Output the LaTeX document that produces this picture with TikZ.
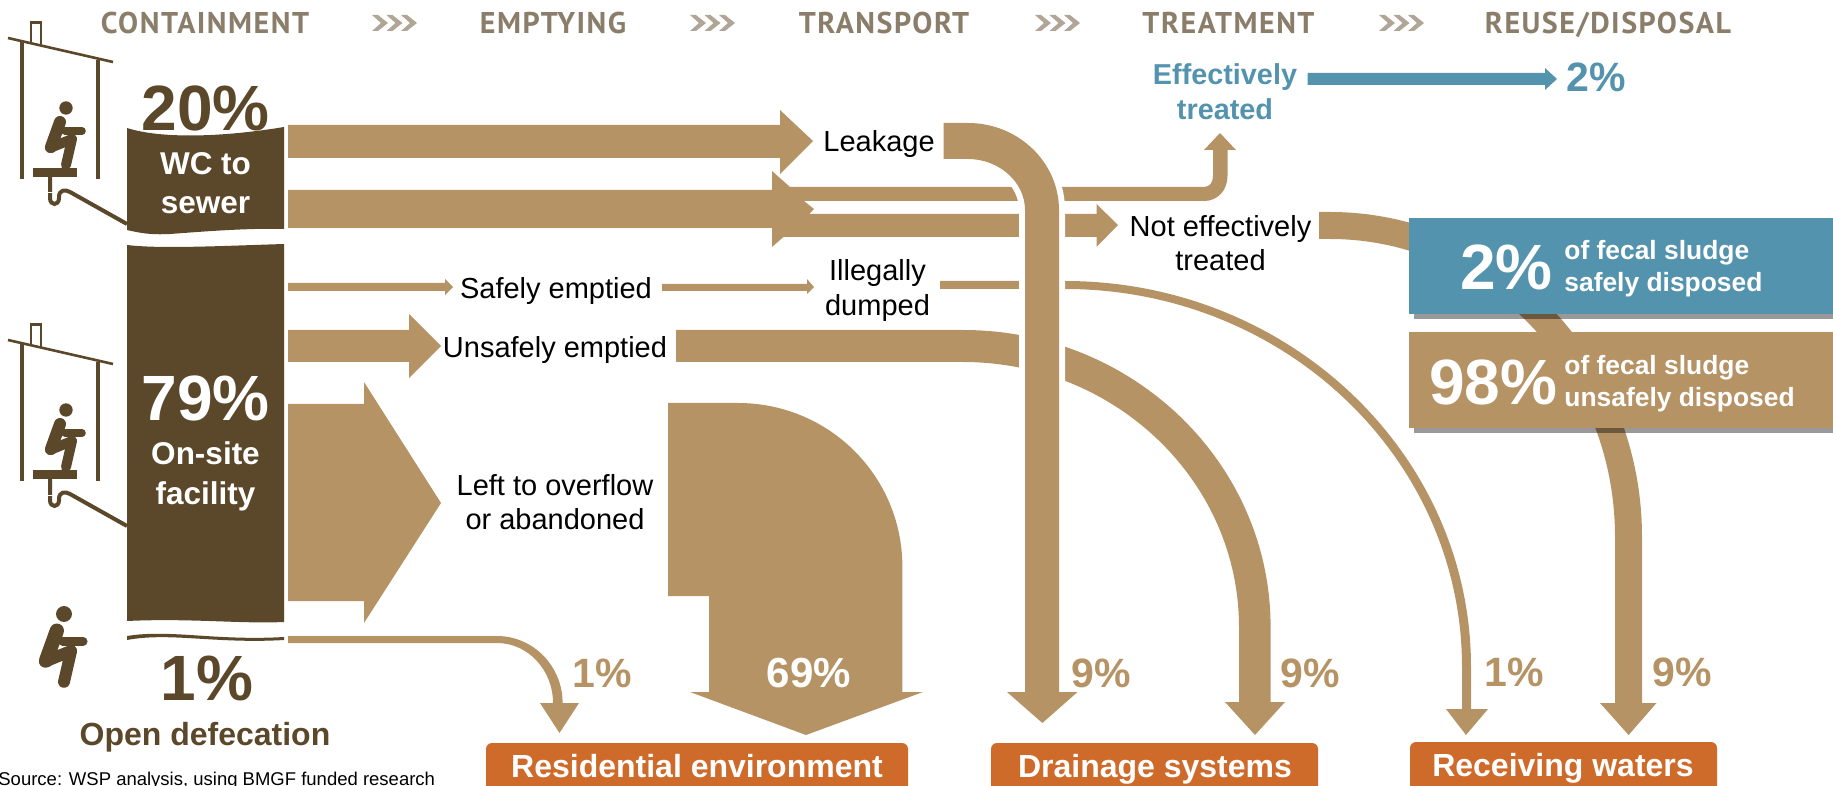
\documentclass[tikz,border=0pt]{standalone}
\usepackage{fontspec}
\setmainfont{Liberation Sans}
\newfontfamily\headfont[LetterSpace=5]{PT Sans}
\definecolor{flowtan}{HTML}{B59365}
\definecolor{pitbrown}{HTML}{5B4729}
\definecolor{safeblue}{HTML}{5493AE}
\definecolor{sinkorange}{HTML}{CE6B2A}
\definecolor{headgrey}{HTML}{8A7D69}
\definecolor{chevgrey}{HTML}{B0A596}
\tikzset{
        flow/.style = {fill=flowtan},
        pit/.style = {fill=pitbrown},
        stage/.style = {font=\headfont\bfseries\fontsize{15}{18}\selectfont, text=headgrey, inner sep=0, anchor=base},
        txt/.style = {font=\fontsize{14.5}{17.25}\selectfont, align=center, inner sep=0, anchor=base},
        bigpct/.style = {font=\bfseries\fontsize{32}{36}\selectfont, inner sep=0, anchor=base},
        midpct/.style = {font=\bfseries\fontsize{20.5}{24}\selectfont, text=flowtan, inner sep=0, anchor=base},
        pitname/.style = {font=\bfseries\fontsize{15.75}{19.5}\selectfont, text=white, align=center, inner sep=0, anchor=base},
        sink/.style = {fill=sinkorange, rounded corners=3pt},
        sinkname/.style = {font=\bfseries\fontsize{16}{19}\selectfont, text=white, inner sep=0, anchor=base},
        fate/.style = {font=\bfseries\fontsize{13.2}{16}\selectfont, text=white, align=left, inner sep=0, anchor=base west},
        pics/squatter/.style = {code={
            \fill[pitbrown] (0,0) circle[radius=6.7];
            \draw[pitbrown, line cap=round, line width=#1*6pt] (-6,14) -- (-15,39);
            \draw[pitbrown, line cap=round, line width=#1*3.8pt] (-1,23) -- (16,23);
            \draw[pitbrown, line cap=round, line join=round, line width=#1*5pt] (-16,40) -- (6,31) -- (0,57);
        }},
        pics/latrine/.style = {code={
            \draw[pitbrown, line width=1.3pt] (8,38) -- (113,62);
            \draw[pitbrown, line width=1.3pt] (31,43) -- (31,22.5) -- (41,22.5) -- (41,45);
            \draw[pitbrown, line width=1.7pt] (22,41) -- (22,179);
            \draw[pitbrown, line width=1.7pt] (98,60) -- (98,179);
            \fill[pitbrown] (33,168) rectangle (77,177);
            \draw[pitbrown, line width=2pt] (50,177) -- (50,198) .. controls (50,206) and (59,206) .. (59,198) -- (59,197) .. controls (59,190) and (65,189) .. (70,192) -- (127,224);
            \draw[white, line width=.5pt] (47,193) -- (53,193);
            \pic at (66,108) {squatter=1};
        }},
        pics/chevrons/.style = {code={
            \foreach \chevx in {0,14.5,29}
                \fill[chevgrey] (\chevx,15) -- (\chevx+6,15) -- (\chevx+16,23) -- (\chevx+6,31) -- (\chevx,31) -- (\chevx+9,23) -- cycle;
        }},
    }
\begin{document}
\begin{tikzpicture}[x=0.5pt, y=-0.5pt]
    \useasboundingbox (0,0) rectangle (1833,786);

    \node [stage] (containment) at (205,34) {CONTAINMENT};
    \node [stage] (emptying) at (553,34) {EMPTYING};
    \node [stage] (transport) at (884,34) {TRANSPORT};
    \node [stage] (treatment) at (1228.5,34) {TREATMENT};
    \node [stage] (reuse) at (1608,34) {REUSE/DISPOSAL};
    \foreach \chevpos in {372,690,1035,1379}
        \pic at (\chevpos,0) {chevrons};

    \pic at (0,0) {latrine};
    \pic at (0,302) {latrine};
    \pic[scale=1.19] at (64,614) {squatter=1.19};

    \fill [pit] (127,128) .. controls (165,140) and (230,136) .. (284,127) -- (284,229) .. controls (250,228) and (210,231) .. (170,234) .. controls (150,235) and (140,233) .. (127,230) -- cycle;
    \fill [pit] (127,245) .. controls (160,249) and (220,246) .. (284,244) -- (284,622) .. controls (240,624) and (190,618) .. (127,621) -- cycle;
    \fill [pit] (127,636) .. controls (170,629) and (215,641) .. (284,637) -- (284,640) .. controls (215,644) and (170,632) .. (127,640) -- cycle;

    \fill [flow] (288,125) -- (780,125) -- (780,110) -- (813,141) -- (780,174) -- (780,158) -- (288,158) -- cycle;
    \fill [flow] (288,190) -- (772,190) -- (772,171) -- (790,187) -- (1204,187) .. controls (1210,187) and (1213,182) .. (1213,176) -- (1213,150) -- (1204,150) -- (1220,133) -- (1236,150) -- (1227.5,150) -- (1227.5,176) .. controls (1227.5,190) and (1218,201) .. (1204,201) -- (804,201) -- (814,209) -- (809,214) -- (1096.5,214) -- (1096.5,204) -- (1118,225) -- (1096.5,247) -- (1096.5,237) -- (783.5,237) -- (772,247) -- (772,228) -- (288,228) -- cycle;
    \fill [flow] (288,283) -- (445,283) -- (445,279) -- (453,287) -- (445,295) -- (445,291) -- (288,291) -- cycle;
    \fill [flow] (662,284) -- (807,284) -- (807,279) -- (814,287) -- (807,294) -- (807,291) -- (662,291) -- cycle;
    \fill [flow] (288,330) -- (409,330) -- (409,314) -- (441,346) -- (409,378) -- (409,362) -- (288,362) -- cycle;
    \fill [flow] (288,404) -- (364,404) -- (364,382) -- (441,503) -- (364,623) -- (364,601) -- (288,601) -- cycle;
    \fill [flow] (288,636) -- (497,636) .. controls (533,636) and (562.6,666) .. (562.6,703) -- (579,703) -- (559.5,733) -- (540,703) -- (553,703) .. controls (553,670) and (528,643) .. (497,643) -- (288,643) -- cycle;
    \fill [flow] (668,403) -- (738,403) .. controls (829,403) and (902.4,476) .. (902.4,567) -- (902.4,692) -- (923,692) -- (806,735) -- (690,692) -- (709,692) -- (709,596) -- (668,596) -- cycle;
    \fill [flow] (676,330) -- (963,330) .. controls (1133,330) and (1270.6,463) .. (1270.6,627) -- (1270.6,702) -- (1285,702) -- (1255,735) -- (1225,702) -- (1239,702) -- (1239,627) .. controls (1239,481) and (1115,362) .. (963,362) -- (676,362) -- cycle;
    \fill [flow] (940,281) -- (1065,281) .. controls (1289,281) and (1471,454) .. (1471,667) -- (1471,709) -- (1488,709) -- (1466,735) -- (1446,709) -- (1462,709) -- (1462,667) .. controls (1462,458) and (1284,289) .. (1065,289) -- (940,289) -- cycle;
    \fill [flow] (1319,212) -- (1330,212) .. controls (1502,212) and (1642,358) .. (1642,537) -- (1642,703) -- (1656.5,703) -- (1628.6,735) -- (1600,703) -- (1615,703) -- (1615,537) .. controls (1615,372) and (1487,239) .. (1330,239) -- (1319,239) -- cycle;
    \path [flow, preaction={draw=white, line width=6pt}] (943.5,123) -- (968,123) .. controls (1018,123) and (1059,162) .. (1059,210) -- (1059,692) -- (1077.5,692) -- (1042.4,723) -- (1007,692) -- (1025,692) -- (1025,210) .. controls (1025,182) and (999,159) .. (968,159) -- (943.5,159) -- cycle;
    \fill [safeblue] (1307.5,73) -- (1545,73) -- (1545,68) -- (1557,79) -- (1545,90) -- (1545,85) -- (1307.5,85) -- cycle;

    \fill [black, opacity=.4] (1414,223) rectangle (1833,319);
    \fill [safeblue] (1409,218) rectangle (1833,314);
    \fill [black, opacity=.4] (1414,337) rectangle (1833,433);
    \fill [flowtan] (1409,332) rectangle (1833,428);

    \fill [sink] (486,743) rectangle (908,800);
    \fill [sink] (991,743) rectangle (1318,800);
    \fill [sink] (1410,742) rectangle (1717,800);

    \node [bigpct, text=pitbrown] (sewerpct) at (205.5,130.5) {20\%};
    \node [pitname] (sewername) at (205.5,213.5) {WC to\\sewer};
    \node [bigpct, text=white] (sitepct) at (205.5,420.5) {79\%};
    \node [pitname, font=\bfseries\fontsize{15.75}{20}\selectfont] (sitename) at (205.5,504) {On-site\\facility};
    \node [bigpct, text=pitbrown] (openpct) at (207,700) {1\%};
    \node [font=\bfseries\fontsize{16}{19}\selectfont, text=pitbrown, inner sep=0, anchor=base] (openname) at (205,745) {Open defecation};
    \node [font=\fontsize{9.25}{12}\selectfont, inner sep=0, anchor=base west] (source) at (-2,785) {Source: WSP analysis, using BMGF funded research};

    \node [txt, anchor=base west] (leakage) at (823,151.5) {Leakage};
    \node [txt] (safely) at (556,299) {Safely emptied};
    \node [txt] (unsafely) at (555,358) {Unsafely emptied};
    \node [txt] (illegally) at (877.5,315.5) {Illegally\\dumped};
    \node [txt] (overflow) at (555,530) {Left to overflow\\or abandoned};
    \node [txt] (noteff) at (1220.5,271) {Not effectively\\treated};
    \node [txt, font=\bfseries\fontsize{14.4}{17.5}\selectfont, text=safeblue] (eff) at (1225,120) {Effectively\\treated};
    \node [midpct, text=safeblue] (effpct) at (1596,92) {2\%};

    \node [midpct, anchor=base west] (residpct) at (572,687) {1\%};
    \node [midpct, text=white, font=\bfseries\fontsize{21}{24}\selectfont] (overflowpct) at (809,687) {69\%};
    \node [midpct, anchor=base west] (leakpct) at (1071,687) {9\%};
    \node [midpct, anchor=base west] (drainpct) at (1280,687) {9\%};
    \node [midpct, anchor=base west] (dumppct) at (1484,686) {1\%};
    \node [midpct, anchor=base west] (wastepct) at (1652,686) {9\%};

    \node [bigpct, text=white, anchor=base east] (safepct) at (1553,290) {2\%};
    \node [fate] (safefate) at (1564,291.5) {of fecal sludge\\safely disposed};
    \node [bigpct, text=white, anchor=base east] (unsafepct) at (1557.5,405) {98\%};
    \node [fate] (unsafefate) at (1564,406.5) {of fecal sludge\\unsafely disposed};

    \node [sinkname] (resident) at (697,777) {Residential environment};
    \node [sinkname] (drainage) at (1155,777) {Drainage systems};
    \node [sinkname] (receiving) at (1563,776) {Receiving waters};
\end{tikzpicture}
\end{document}
